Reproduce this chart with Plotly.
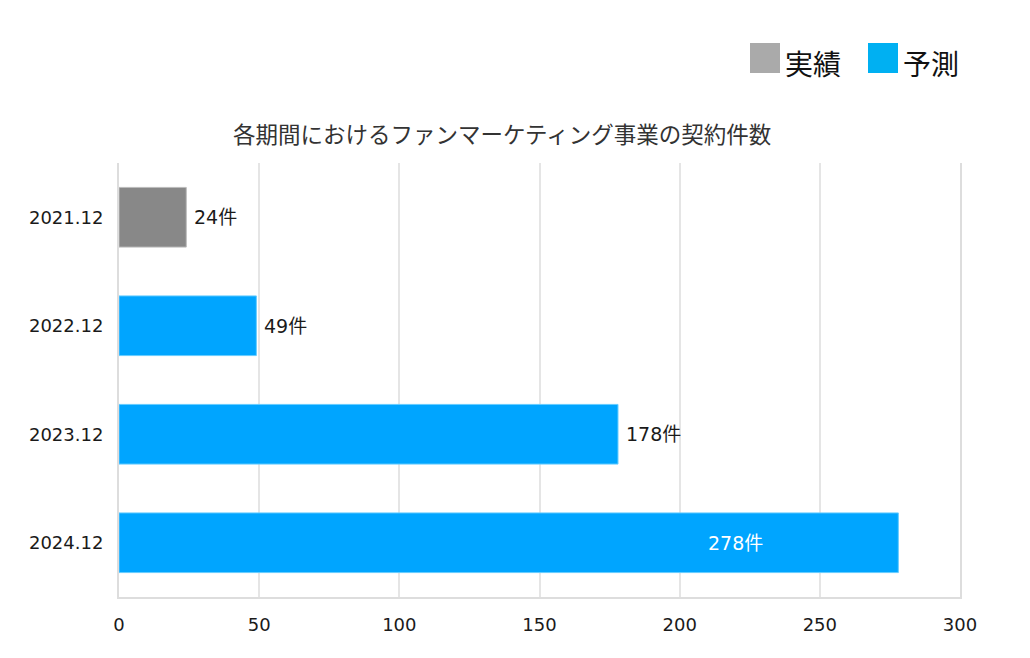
import plotly.graph_objects as go

categories = ["2021.12", "2022.12", "2023.12", "2024.12"]
values = [24, 49, 178, 278]
kinds = ["実績", "予測", "予測", "予測"]
x_ticks = [0, 50, 100, 150, 200, 250, 300]
title_text = "各期間におけるファンマーケティング事業の契約件数"
unit = "件"

bar_colors = {"実績": "#888888", "予測": "#00a5ff"}
bar_edges = {"実績": "#bbbbbb", "予測": "#66ccff"}
legend_colors = {"実績": "#aaaaaa", "予測": "#00b0f2"}
FONT = "DejaVu Sans, Noto Sans CJK JP, sans-serif"

OFF = 8  # page body margin
W, H = 1030, 658
L, R, T, B = 119 - OFF, W - 960 + OFF, 163 - OFF, H - 597 + OFF

fig = go.Figure()
fig.add_trace(go.Bar(
    x=values, y=categories, orientation="h",
    marker=dict(color=[bar_colors[k] for k in kinds],
                line=dict(color=[bar_edges[k] for k in kinds], width=1)),
    width=0.55, hoverinfo="skip", showlegend=False,
))

pw = W - L - R
ph = H - T - B
def px_x(p):
    return (p - OFF - L) / pw
def px_y(p):
    return (H - B - (p - OFF)) / ph

annotations = []
for i, v in enumerate(values):
    last = i == len(values) - 1
    annotations.append(dict(
        x=v, y=i, xref="x", yref="y", text=f"{v}{unit}", showarrow=False,
        xanchor="right" if last else "left", xshift=-133 if last else 6,
        font=dict(family=FONT, size=19, color="#ffffff" if last else "#1a1a1a"),
    ))

annotations.append(dict(x=px_x(502), y=px_y(135), xref="paper", yref="paper", text=title_text,
                        showarrow=False, xanchor="center", yanchor="middle",
                        font=dict(family=FONT, size=22.5, color="#333333")))

shapes = []
legend_items = [("実績", 750), ("予測", 868)]
for name, x0 in legend_items:
    shapes.append(dict(type="rect", xref="paper", yref="paper",
                       x0=px_x(x0), x1=px_x(x0 + 30), y0=px_y(73), y1=px_y(43),
                       line=dict(width=0), fillcolor=legend_colors[name], layer="above"))
    annotations.append(dict(x=px_x(x0 + 33), y=px_y(66), xref="paper", yref="paper",
                            text=name, showarrow=False, xanchor="left", yanchor="middle",
                            font=dict(family=FONT, size=28, color="#111111")))

fig.update_layout(
    width=W, height=H,
    margin=dict(l=L, r=R, t=T, b=B),
    paper_bgcolor="white", plot_bgcolor="white",
    showlegend=False,
    font=dict(family=FONT, size=18, color="#1a1a1a"),
    xaxis=dict(range=[0, 300], tickvals=x_ticks, showgrid=True, gridcolor="#e5e5e5",
               gridwidth=1.5, zeroline=False, showline=True, linecolor="#dddddd", linewidth=2,
               ticks="outside", ticklen=10, tickcolor="rgba(0,0,0,0)",
               tickfont=dict(family=FONT, size=18, color="#1a1a1a"),
               fixedrange=True),
    yaxis=dict(type="category", categoryorder="array", categoryarray=categories,
               range=[3.5, -0.5],
               showgrid=False, zeroline=False, showline=True, mirror=True,
               linecolor="#dddddd", linewidth=2,
               ticks="outside", ticklen=10, tickcolor="rgba(0,0,0,0)",
               tickfont=dict(family=FONT, size=18, color="#1a1a1a")),
    shapes=shapes, annotations=annotations,
)

fig.write_html("out.html")
